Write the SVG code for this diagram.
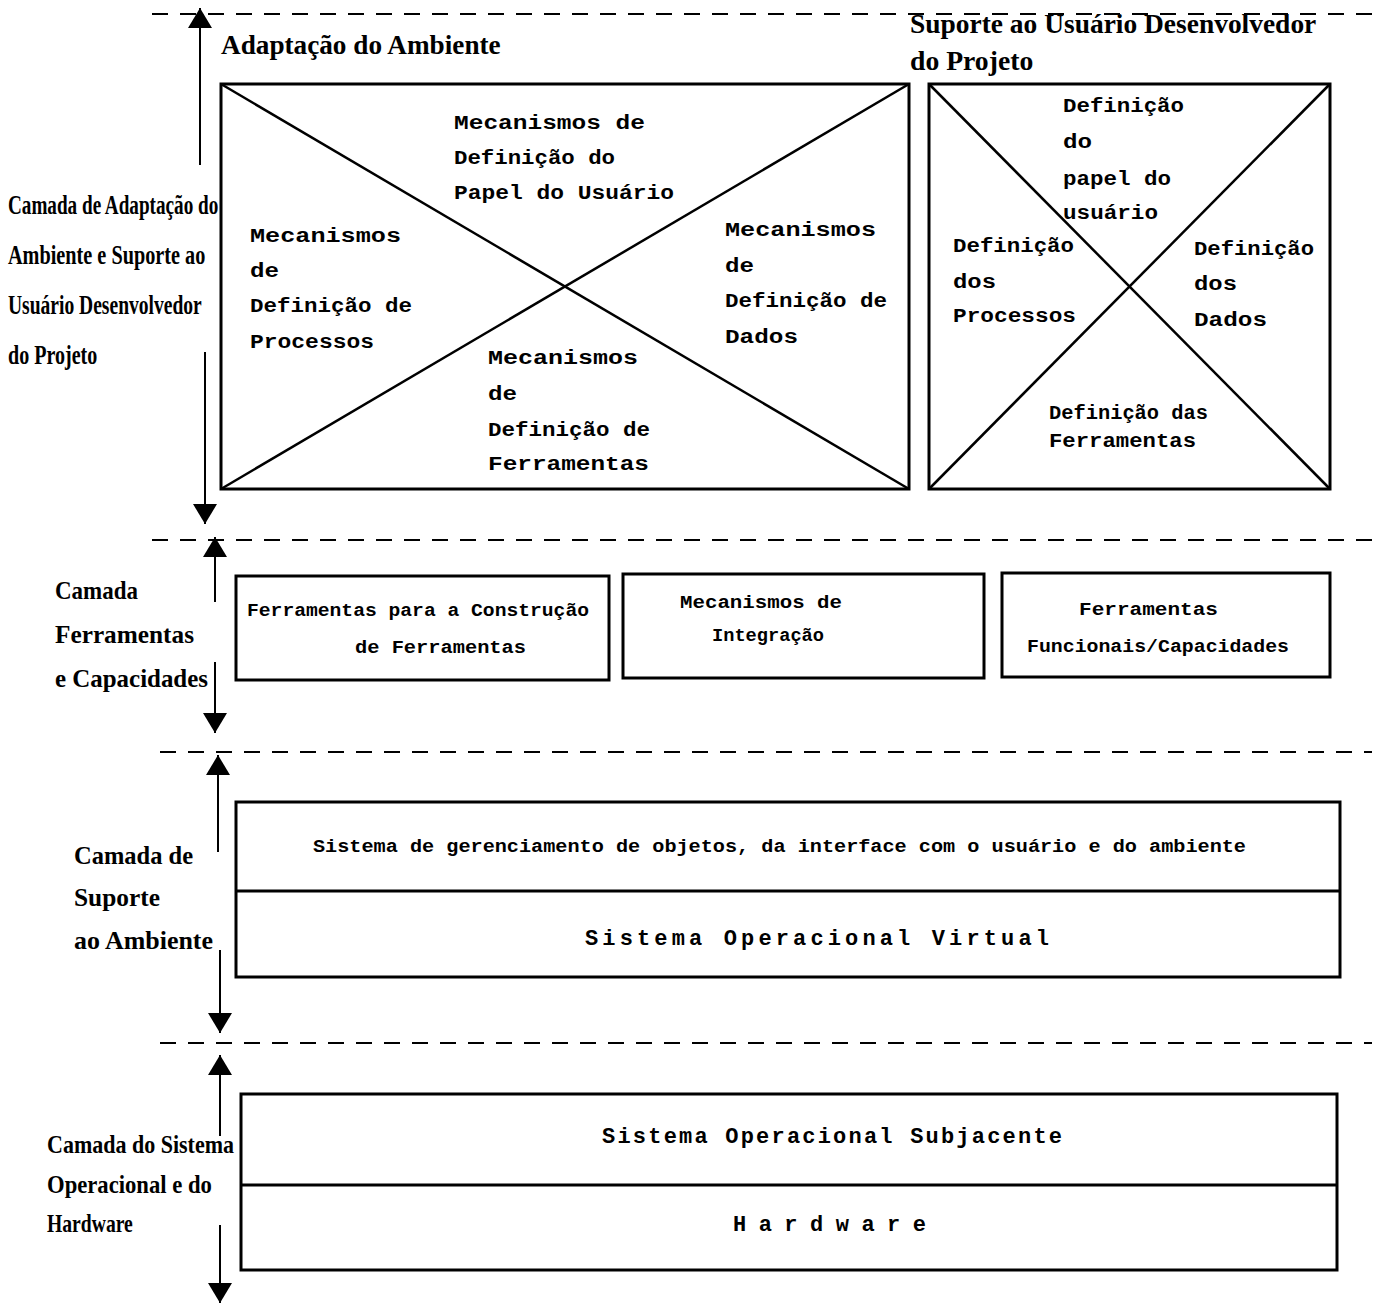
<svg xmlns="http://www.w3.org/2000/svg" width="1378" height="1305" viewBox="0 0 1378 1305">
  <style>
    .bg { fill: #ffffff; }
    .sep { stroke: #000; stroke-width: 2; stroke-dasharray: 16 12; fill: none; }
    .box { fill: none; stroke: #000; stroke-width: 3; }
    .diag { stroke: #000; stroke-width: 2.5; fill: none; }
    .div { stroke: #000; stroke-width: 3; }
    .arr { stroke: #000; stroke-width: 2; fill: none; marker-end: url(#head); }
    .lbl { font-family: "Liberation Serif", "DejaVu Serif", serif; font-weight: bold; font-size: 28px; fill: #000; }
    .lbl2 { font-family: "Liberation Serif", "DejaVu Serif", serif; font-weight: bold; font-size: 26px; fill: #000; }
    .mono { font-family: "Liberation Mono", "DejaVu Sans Mono", monospace; font-weight: bold; font-size: 22px; fill: #000; }
    .cell { font-family: "Liberation Mono", "DejaVu Sans Mono", monospace; font-weight: bold; font-size: 20px; fill: #000; }
    .sm { font-family: "Liberation Mono", "DejaVu Sans Mono", monospace; font-weight: bold; font-size: 18px; fill: #000; }
  </style>
  <defs>
    <marker id="head" viewBox="0 0 20 24" refX="20" refY="12" markerWidth="20" markerHeight="24" markerUnits="userSpaceOnUse" orient="auto">
      <path d="M0,0 L20,12 L0,24 z" fill="#000"/>
    </marker>
  </defs>

  <rect class="bg" x="0" y="0" width="1378" height="1305"/>

  <!-- layer separators -->
  <g id="separators">
    <line class="sep" x1="152" y1="14" x2="1372" y2="14"/>
    <line class="sep" x1="152" y1="540" x2="1372" y2="540"/>
    <line class="sep" x1="160" y1="752" x2="1372" y2="752"/>
    <line class="sep" x1="160" y1="1043" x2="1372" y2="1043"/>
  </g>

  <!-- layer extent arrows -->
  <g id="connectors">
    <line class="arr" x1="200" y1="165" x2="200" y2="8"/>
    <line class="arr" x1="205" y1="352" x2="205" y2="524"/>
    <line class="arr" x1="215" y1="602" x2="215" y2="537"/>
    <line class="arr" x1="215" y1="662" x2="215" y2="733"/>
    <line class="arr" x1="218" y1="852" x2="218" y2="755"/>
    <line class="arr" x1="220" y1="950" x2="220" y2="1033"/>
    <line class="arr" x1="220" y1="1136" x2="220" y2="1055"/>
    <line class="arr" x1="220" y1="1225" x2="220" y2="1303"/>
  </g>

  <!-- layer titles (condensed serif: horizontal scale 0.72) -->
  <g id="layer-adaptacao-label">
    <text class="lbl" transform="translate(8,214) scale(0.72,1)" textLength="292" lengthAdjust="spacingAndGlyphs">Camada de Adaptação do</text>
    <text class="lbl" transform="translate(8,264) scale(0.72,1)" textLength="274" lengthAdjust="spacingAndGlyphs">Ambiente e Suporte ao</text>
    <text class="lbl" transform="translate(8,314) scale(0.72,1)" textLength="269" lengthAdjust="spacingAndGlyphs">Usuário Desenvolvedor</text>
    <text class="lbl" transform="translate(8,364) scale(0.72,1)" textLength="124" lengthAdjust="spacingAndGlyphs">do Projeto</text>
  </g>
  <g id="layer-ferramentas-label">
    <text class="lbl2" x="55" y="599" textLength="83" lengthAdjust="spacingAndGlyphs">Camada</text>
    <text class="lbl2" x="55" y="643" textLength="139" lengthAdjust="spacingAndGlyphs">Ferramentas</text>
    <text class="lbl2" x="55" y="687" textLength="153" lengthAdjust="spacingAndGlyphs">e Capacidades</text>
  </g>
  <g id="layer-suporte-label">
    <text class="lbl2" x="74" y="864" textLength="119" lengthAdjust="spacingAndGlyphs">Camada de</text>
    <text class="lbl2" x="74" y="906" textLength="86" lengthAdjust="spacingAndGlyphs">Suporte</text>
    <text class="lbl2" x="74" y="949" textLength="139" lengthAdjust="spacingAndGlyphs">ao Ambiente</text>
  </g>
  <g id="layer-so-label">
    <text class="lbl2" transform="translate(47,1153) scale(0.85,1)" textLength="220" lengthAdjust="spacingAndGlyphs">Camada do Sistema</text>
    <text class="lbl2" transform="translate(47,1193) scale(0.85,1)" textLength="194" lengthAdjust="spacingAndGlyphs">Operacional e do</text>
    <text class="lbl2" transform="translate(47,1232) scale(0.85,1)" textLength="101" lengthAdjust="spacingAndGlyphs">Hardware</text>
  </g>

  <!-- environment adaptation block -->
  <g id="adaptacao-ambiente">
    <text class="lbl" transform="translate(221,54) scale(0.85,1)" textLength="329" lengthAdjust="spacingAndGlyphs">Adaptação do Ambiente</text>
    <rect class="box" x="221" y="84" width="688" height="405"/>
    <line class="diag" x1="221" y1="84" x2="909" y2="489"/>
    <line class="diag" x1="221" y1="489" x2="909" y2="84"/>
    <text class="cell" x="454" y="129" textLength="191" lengthAdjust="spacingAndGlyphs">Mecanismos de</text>
    <text class="cell" x="454" y="164" textLength="161" lengthAdjust="spacingAndGlyphs">Definição do</text>
    <text class="cell" x="454" y="199" textLength="220" lengthAdjust="spacingAndGlyphs">Papel do Usuário</text>
    <text class="cell" x="250" y="242" textLength="151" lengthAdjust="spacingAndGlyphs">Mecanismos</text>
    <text class="cell" x="250" y="277" textLength="29" lengthAdjust="spacingAndGlyphs">de</text>
    <text class="cell" x="250" y="312" textLength="162" lengthAdjust="spacingAndGlyphs">Definição de</text>
    <text class="cell" x="250" y="348" textLength="124" lengthAdjust="spacingAndGlyphs">Processos</text>
    <text class="cell" x="725" y="236" textLength="151" lengthAdjust="spacingAndGlyphs">Mecanismos</text>
    <text class="cell" x="725" y="272" textLength="29" lengthAdjust="spacingAndGlyphs">de</text>
    <text class="cell" x="725" y="307" textLength="162" lengthAdjust="spacingAndGlyphs">Definição de</text>
    <text class="cell" x="725" y="343" textLength="73" lengthAdjust="spacingAndGlyphs">Dados</text>
    <text class="cell" x="488" y="364" textLength="150" lengthAdjust="spacingAndGlyphs">Mecanismos</text>
    <text class="cell" x="488" y="400" textLength="29" lengthAdjust="spacingAndGlyphs">de</text>
    <text class="cell" x="488" y="436" textLength="162" lengthAdjust="spacingAndGlyphs">Definição de</text>
    <text class="cell" x="488" y="470" textLength="161" lengthAdjust="spacingAndGlyphs">Ferramentas</text>
  </g>

  <!-- project developer support block -->
  <g id="suporte-usuario">
    <text class="lbl" transform="translate(910,33) scale(0.85,1)" textLength="478" lengthAdjust="spacingAndGlyphs">Suporte ao Usuário Desenvolvedor</text>
    <text class="lbl" transform="translate(910,70) scale(0.85,1)" textLength="145" lengthAdjust="spacingAndGlyphs">do Projeto</text>
    <rect class="box" x="929" y="84" width="401" height="405"/>
    <line class="diag" x1="929" y1="84" x2="1330" y2="489"/>
    <line class="diag" x1="929" y1="489" x2="1330" y2="84"/>
    <text class="cell" x="1063" y="112" textLength="121" lengthAdjust="spacingAndGlyphs">Definição</text>
    <text class="cell" x="1063" y="148" textLength="29" lengthAdjust="spacingAndGlyphs">do</text>
    <text class="cell" x="1063" y="185" textLength="108" lengthAdjust="spacingAndGlyphs">papel do</text>
    <text class="cell" x="1063" y="219" textLength="95" lengthAdjust="spacingAndGlyphs">usuário</text>
    <text class="cell" x="953" y="252" textLength="121" lengthAdjust="spacingAndGlyphs">Definição</text>
    <text class="cell" x="953" y="288" textLength="43" lengthAdjust="spacingAndGlyphs">dos</text>
    <text class="cell" x="953" y="322" textLength="123" lengthAdjust="spacingAndGlyphs">Processos</text>
    <text class="cell" x="1194" y="255" textLength="120" lengthAdjust="spacingAndGlyphs">Definição</text>
    <text class="cell" x="1194" y="290" textLength="43" lengthAdjust="spacingAndGlyphs">dos</text>
    <text class="cell" x="1194" y="326" textLength="73" lengthAdjust="spacingAndGlyphs">Dados</text>
    <text class="cell" x="1049" y="419" textLength="159" lengthAdjust="spacingAndGlyphs">Definição das</text>
    <text class="cell" x="1049" y="447" textLength="147" lengthAdjust="spacingAndGlyphs">Ferramentas</text>
  </g>

  <!-- tools and capabilities -->
  <g id="ferramentas-construcao">
    <rect class="box" x="236" y="576" width="373" height="104"/>
    <text class="sm" x="247" y="616" textLength="342" lengthAdjust="spacingAndGlyphs">Ferramentas para a Construção</text>
    <text class="sm" x="355" y="653" textLength="171" lengthAdjust="spacingAndGlyphs">de Ferramentas</text>
  </g>
  <g id="mecanismos-integracao">
    <rect class="box" x="623" y="574" width="361" height="104"/>
    <text class="sm" x="680" y="608" textLength="162" lengthAdjust="spacingAndGlyphs">Mecanismos de</text>
    <text class="sm" x="712" y="641" textLength="112" lengthAdjust="spacingAndGlyphs">Integração</text>
  </g>
  <g id="ferramentas-funcionais">
    <rect class="box" x="1002" y="573" width="328" height="104"/>
    <text class="sm" x="1079" y="615" textLength="139" lengthAdjust="spacingAndGlyphs">Ferramentas</text>
    <text class="sm" x="1027" y="652" textLength="262" lengthAdjust="spacingAndGlyphs">Funcionais/Capacidades</text>
  </g>

  <!-- environment support -->
  <g id="suporte-ambiente">
    <rect class="box" x="236" y="802" width="1104" height="175"/>
    <line class="div" x1="236" y1="891" x2="1340" y2="891"/>
    <text class="sm" x="313" y="852" textLength="933" lengthAdjust="spacingAndGlyphs">Sistema de gerenciamento de objetos, da interface com o usuário e do ambiente</text>
    <text class="mono" x="585" y="945" textLength="464" lengthAdjust="spacing">Sistema Operacional Virtual</text>
  </g>

  <!-- operating system and hardware -->
  <g id="sistema-hardware">
    <rect class="box" x="241" y="1094" width="1096" height="176"/>
    <line class="div" x1="241" y1="1185" x2="1337" y2="1185"/>
    <text class="mono" x="602" y="1143" textLength="460" lengthAdjust="spacing">Sistema Operacional Subjacente</text>
    <text class="mono" x="733" y="1231" textLength="193" lengthAdjust="spacing">Hardware</text>
  </g>
</svg>
